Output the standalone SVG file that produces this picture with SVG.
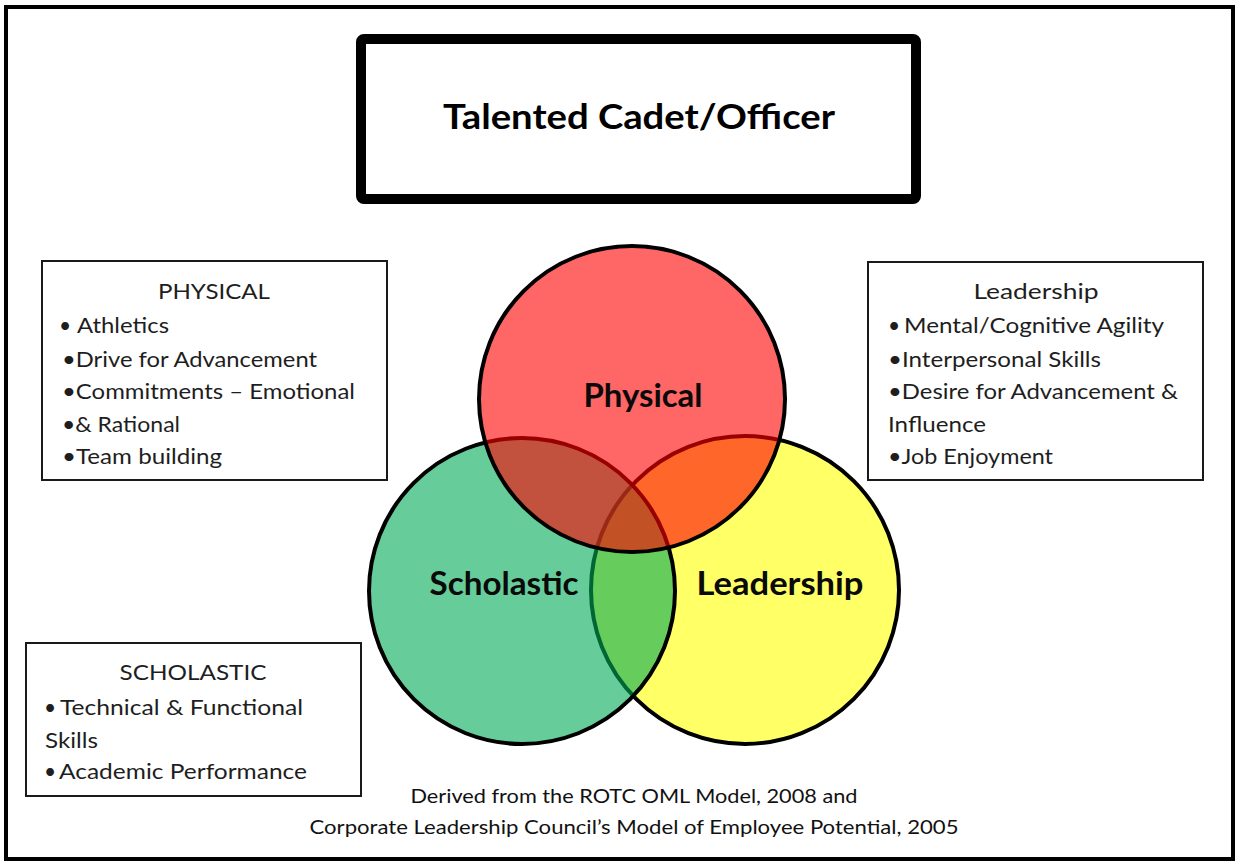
<svg xmlns="http://www.w3.org/2000/svg" width="1238" height="863" viewBox="0 0 1238 863">
<style>
.frame{fill:#fff;stroke:#000;stroke-width:4}
.box{fill:#fff;stroke:#1a1a1a;stroke-width:2}
.title{fill:#fff;stroke:#000;stroke-width:10}
.circ{stroke:#000;stroke-width:4}
.t{font-family:Lato,"Open Sans","Liberation Sans",sans-serif;fill:#1e1e1e}
.hd{font-size:22px;text-anchor:middle}
.ln{font-size:21px}
.big{font-size:33px;font-weight:bold;fill:#0a0a0a;text-anchor:middle}
.ttl{font-size:35px;font-weight:bold;fill:#000;text-anchor:middle}
.ft{font-size:20px;fill:#111;text-anchor:middle}
</style>
<rect class="frame" x="6" y="7" width="1227" height="852"/>
<g id="title-node">
<rect class="title" x="361" y="39" width="555" height="160" rx="3"/>
<text class="t ttl" x="639" y="129" textLength="392" lengthAdjust="spacingAndGlyphs">Talented Cadet/Officer</text>
</g>
<g id="venn">
<g id="circle-leadership">
<circle class="circ" cx="745" cy="590" r="154" fill="rgba(255,255,0,0.6)"/>
</g>
<g id="circle-scholastic">
<circle class="circ" cx="522" cy="591" r="153" fill="rgba(0,170,85,0.6)"/>
</g>
<g id="circle-physical">
<circle class="circ" cx="632" cy="399" r="153" fill="rgba(255,0,0,0.6)"/>
</g>
<text class="t big" x="643" y="407" textLength="119" lengthAdjust="spacingAndGlyphs">Physical</text>
<text class="t big" x="504" y="595" textLength="149" lengthAdjust="spacingAndGlyphs">Scholastic</text>
<text class="t big" x="780" y="595" textLength="167" lengthAdjust="spacingAndGlyphs">Leadership</text>
</g>
<g id="physical-box">
<rect class="box" x="42" y="261" width="345" height="219"/>
<text class="t hd" x="214" y="299" textLength="112" lengthAdjust="spacingAndGlyphs">PHYSICAL</text>
<text class="t ln" x="59" y="333">•</text>
<text class="t ln" x="77" y="333" textLength="92" lengthAdjust="spacingAndGlyphs">Athletics</text>
<text class="t ln" x="62" y="367" textLength="255" lengthAdjust="spacingAndGlyphs">•Drive for Advancement</text>
<text class="t ln" x="62" y="399" textLength="293" lengthAdjust="spacingAndGlyphs">•Commitments – Emotional</text>
<text class="t ln" x="62" y="432" textLength="118" lengthAdjust="spacingAndGlyphs">•&amp; Rational</text>
<text class="t ln" x="62" y="464" textLength="160" lengthAdjust="spacingAndGlyphs">•Team building</text>
</g>
<g id="leadership-box">
<rect class="box" x="868" y="262" width="335" height="218"/>
<text class="t hd" x="1036" y="299" textLength="125" lengthAdjust="spacingAndGlyphs">Leadership</text>
<text class="t ln" x="888" y="333">•</text>
<text class="t ln" x="904" y="333" textLength="260" lengthAdjust="spacingAndGlyphs">Mental/Cognitive Agility</text>
<text class="t ln" x="888" y="367" textLength="213" lengthAdjust="spacingAndGlyphs">•Interpersonal Skills</text>
<text class="t ln" x="888" y="399" textLength="290" lengthAdjust="spacingAndGlyphs">•Desire for Advancement &amp;</text>
<text class="t ln" x="888" y="432" textLength="98" lengthAdjust="spacingAndGlyphs">Influence</text>
<text class="t ln" x="888" y="464" textLength="165" lengthAdjust="spacingAndGlyphs">•Job Enjoyment</text>
</g>
<g id="scholastic-box">
<rect class="box" x="26" y="643" width="335" height="153"/>
<text class="t hd" x="193" y="680" textLength="147" lengthAdjust="spacingAndGlyphs">SCHOLASTIC</text>
<text class="t ln" x="44" y="715">•</text>
<text class="t ln" x="60" y="715" textLength="243" lengthAdjust="spacingAndGlyphs">Technical &amp; Functional</text>
<text class="t ln" x="45" y="748" textLength="53" lengthAdjust="spacingAndGlyphs">Skills</text>
<text class="t ln" x="44" y="779">•</text>
<text class="t ln" x="59" y="779" textLength="248" lengthAdjust="spacingAndGlyphs">Academic Performance</text>
</g>
<g id="footer">
<text class="t ft" x="634" y="803" textLength="447" lengthAdjust="spacingAndGlyphs">Derived from the ROTC OML Model, 2008 and</text>
<text class="t ft" x="634" y="834" textLength="649" lengthAdjust="spacingAndGlyphs">Corporate Leadership Council’s Model of Employee Potential, 2005</text>
</g>
</svg>
